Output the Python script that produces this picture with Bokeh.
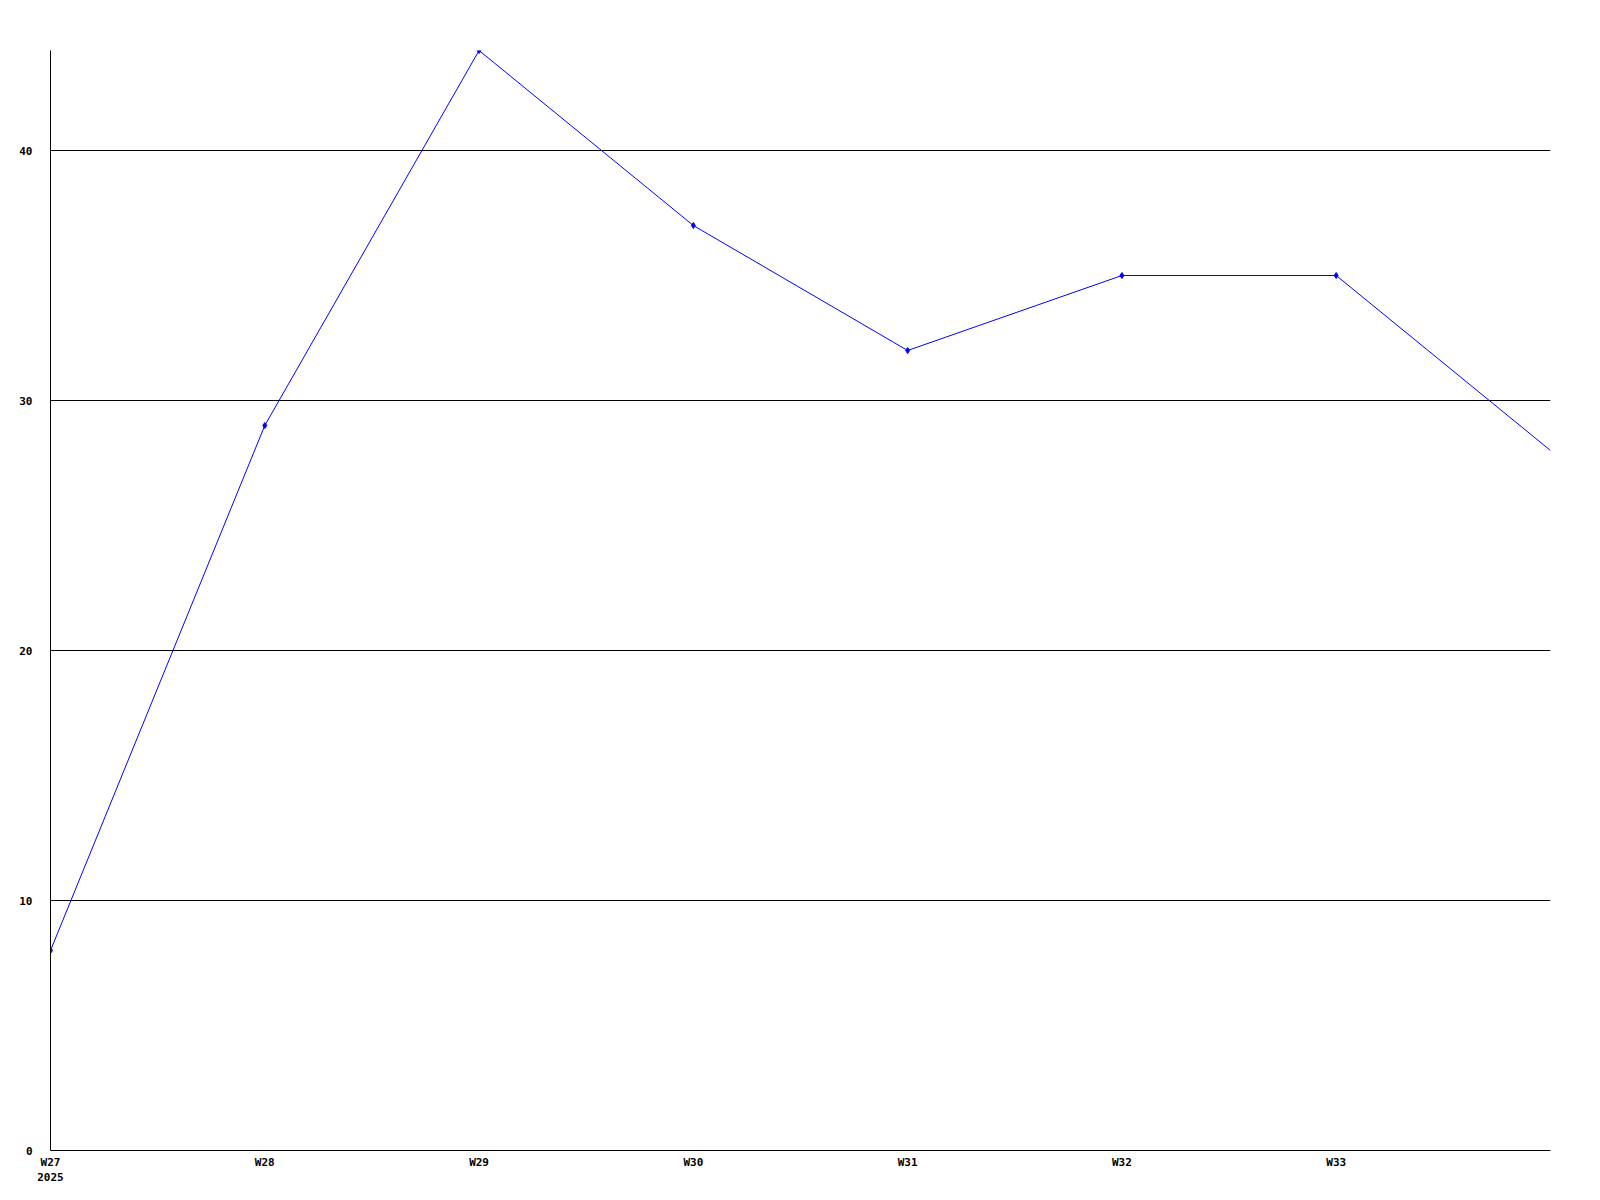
from bokeh.plotting import figure
from bokeh.models import Range1d, FixedTicker
from bokeh.embed import file_html
from bokeh.resources import INLINE

weeks = ["W27", "W28", "W29", "W30", "W31", "W32", "W33", "W34"]
year_label = "2025"
counts = [8, 29, 44, 37, 32, 35, 35, 28]
y_ticks = [0, 10, 20, 30, 40]

xs = list(range(len(weeks)))

p = figure(width=1592, height=1192, output_backend="svg", toolbar_location=None,
           x_range=Range1d(0, len(weeks) - 1), y_range=Range1d(0, 44),
           min_border_left=50, min_border_right=42, min_border_top=50, min_border_bottom=42)
p.outline_line_color = None
p.background_fill_color = "white"
p.border_fill_color = "white"

FONT = "DejaVu Sans Mono"

# x axis
p.xaxis.ticker = FixedTicker(ticks=xs[:-1])
overrides = {i: w for i, w in zip(xs[:-1], weeks[:-1])}
overrides[0] = weeks[0] + "\n" + year_label
p.xaxis.major_label_overrides = overrides
p.xaxis.axis_line_color = "black"
p.xaxis.axis_line_width = 1
p.xaxis.major_tick_line_color = None
p.xaxis.minor_tick_line_color = None
p.xaxis.major_tick_out = 0
p.xaxis.major_label_standoff = 5
p.xaxis.major_label_text_font = FONT
p.xaxis.major_label_text_font_style = "bold"
p.xaxis.major_label_text_font_size = "11px"
p.xaxis.major_label_text_color = "black"

# y axis
p.yaxis.ticker = FixedTicker(ticks=y_ticks)
p.yaxis.axis_line_color = "black"
p.yaxis.axis_line_width = 1
p.yaxis.major_tick_line_color = None
p.yaxis.minor_tick_line_color = None
p.yaxis.major_label_standoff = 12
p.yaxis.major_label_text_font = FONT
p.yaxis.major_label_text_font_style = "bold"
p.yaxis.major_label_text_font_size = "11px"
p.yaxis.major_label_text_color = "black"

p.xgrid.grid_line_color = None
p.ygrid.ticker = FixedTicker(ticks=y_ticks)
p.ygrid.grid_line_color = "black"
p.ygrid.grid_line_alpha = 1.0
p.ygrid.grid_line_width = 1

p.line(xs, counts, line_color="#0000ff", line_width=1)
p.scatter(xs[:-1], counts[:-1], marker="diamond", size=6, fill_color="#0000ff", line_color="#0000ff")

open("out.html", "w").write(file_html(p, INLINE))
